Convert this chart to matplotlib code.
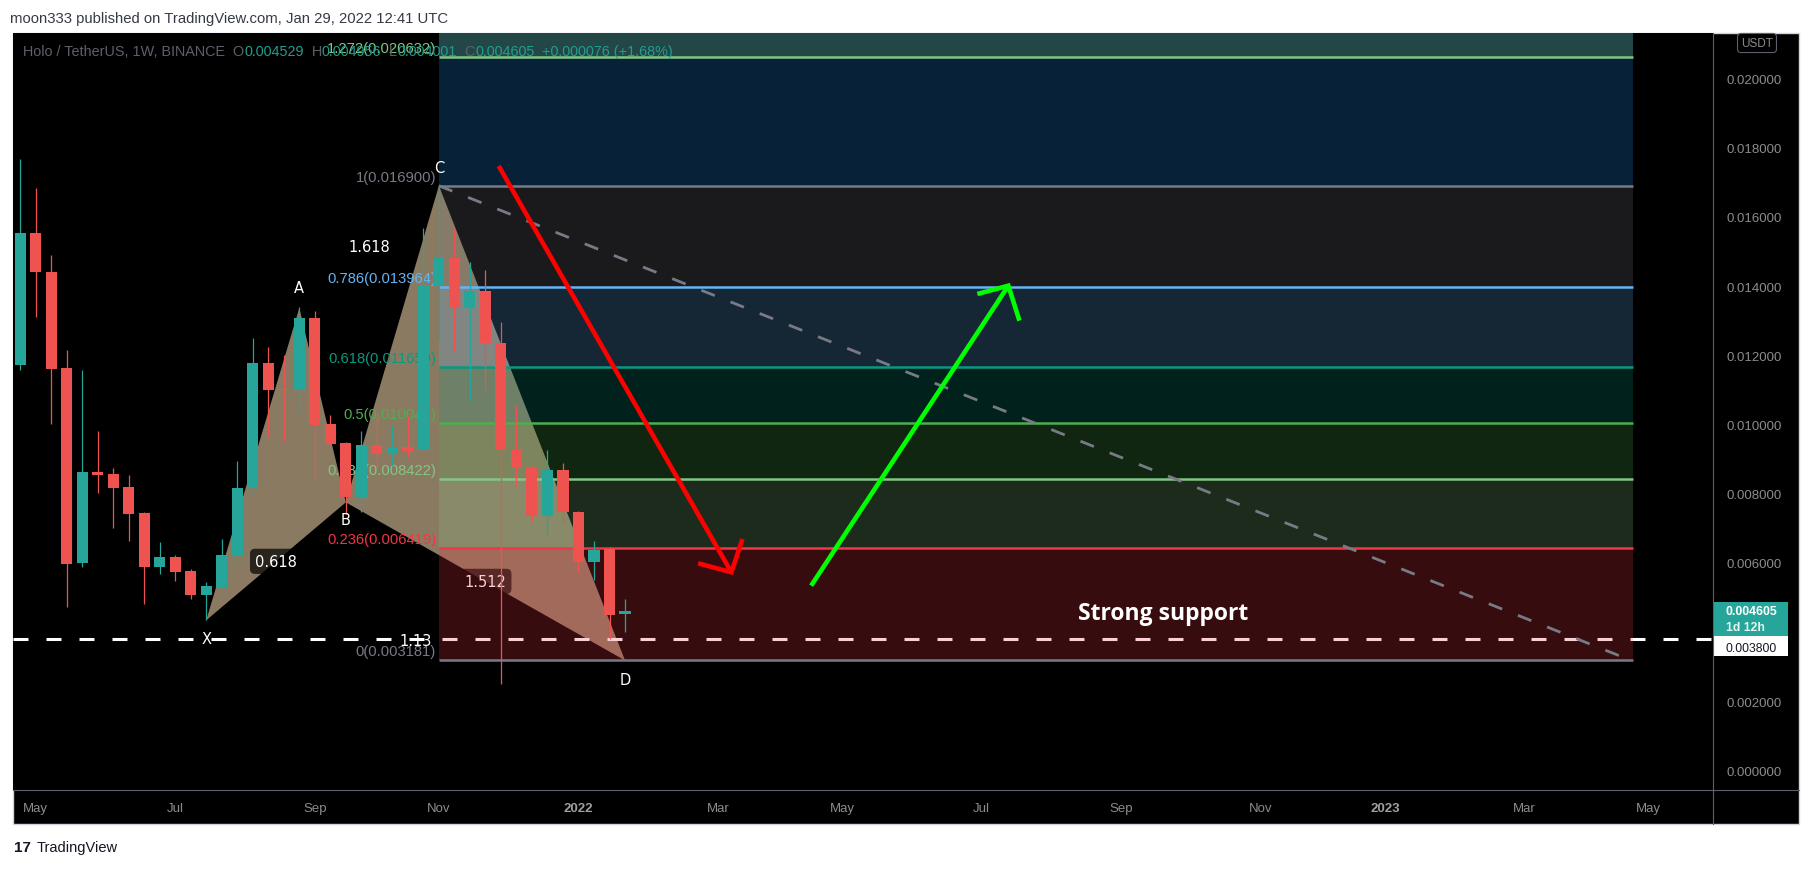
import datetime as dt
import numpy as np
import matplotlib
matplotlib.use("Agg")
import matplotlib.pyplot as plt
import matplotlib.dates as mdates
import matplotlib.transforms as mtransforms
from matplotlib.lines import Line2D
from matplotlib.patches import Rectangle

plt.rcParams["font.family"] = ["Liberation Sans", "DejaVu Sans"]

W, H, DPI = 1813, 870, 100

# ----------------------------------------------------------------------
# weekly candles HOT/USDT (Binance), first bar = week of 2021-04-26
FIRST_BAR = dt.datetime(2021, 4, 26)
opens = [0.01173, 0.01553, 0.01442, 0.01163, 0.00601, 0.00863, 0.00857, 0.00819,
         0.00744, 0.00589, 0.00617, 0.00577, 0.00508, 0.00531, 0.00621, 0.00816,
         0.01178, 0.01104, 0.01101, 0.01308, 0.01001, 0.00947, 0.00788, 0.00941,
         0.00915, 0.00934, 0.00926, 0.01399, 0.01481, 0.01336, 0.01385, 0.01235,
         0.00927, 0.00874, 0.00736, 0.00869, 0.00746, 0.00602, 0.00640, 0.004529]
highs = [0.01767, 0.01683, 0.01490, 0.01215, 0.01158, 0.00980, 0.00874, 0.00853,
         0.00748, 0.00660, 0.00624, 0.00582, 0.00545, 0.00669, 0.00895, 0.01250,
         0.01224, 0.01201, 0.01340, 0.01327, 0.01028, 0.00948, 0.00982, 0.01036,
         0.00995, 0.01025, 0.01568, 0.01690, 0.01568, 0.01469, 0.01447, 0.01295,
         0.01056, 0.00879, 0.00926, 0.00889, 0.00751, 0.00664, 0.00645, 0.004956]
lows = [0.01158, 0.01312, 0.01001, 0.00473, 0.00589, 0.00802, 0.00701, 0.00664,
        0.00482, 0.00569, 0.00549, 0.00497, 0.00434, 0.00527, 0.00604, 0.00793,
        0.00964, 0.00949, 0.01028, 0.00838, 0.00940, 0.00741, 0.00746, 0.00871,
        0.00881, 0.00910, 0.00923, 0.01241, 0.01213, 0.01067, 0.01101, 0.00250,
        0.00823, 0.00717, 0.00677, 0.00712, 0.00573, 0.00551, 0.00380, 0.004001]
closes = [0.01553, 0.01442, 0.01161, 0.00598, 0.00863, 0.00855, 0.00817, 0.00741,
          0.00589, 0.00617, 0.00575, 0.00508, 0.00532, 0.00623, 0.00817, 0.01178,
          0.01101, 0.01101, 0.01308, 0.00999, 0.00945, 0.00790, 0.00941, 0.00915,
          0.00932, 0.00923, 0.01399, 0.01481, 0.01336, 0.01385, 0.01235, 0.00927,
          0.00873, 0.00736, 0.00869, 0.00746, 0.00602, 0.00637, 0.00450, 0.004605]

# fib retracement D(0) -> C(1)
fib_levels = ["0", "0.236", "0.382", "0.5", "0.618", "0.786", "1", "1.272", "1.618"]
fib_prices = [0.003181, 0.006419, 0.008422, 0.010041, 0.011659, 0.013964,
              0.016900, 0.020632, 0.025378]
fib_colors = ["#787b86", "#f23645", "#81c784", "#4caf50", "#089981", "#64b5f6",
              "#787b86", "#81c784", "#2962ff"]
zone_colors = ["#f23645", "#81c784", "#4caf50", "#089981", "#64b5f6", "#787b86",
               "#2196f3", "#58b4b4"]
zone_alphas = [0.23, 0.22, 0.22, 0.22, 0.22, 0.22, 0.23, 0.40]
fib_start, fib_end = "2021-11-01", "2023-04-24"

# XABCD pattern
pat_names = ["X", "A", "B", "C", "D"]
pat_dates = ["2021-07-19", "2021-08-30", "2021-09-20", "2021-11-01", "2022-01-24"]
pat_prices = [0.004341, 0.013367, 0.007750, 0.016900, 0.003181]
pat_label_dy = [-13, 15, -12, 13, -14]
ratio_links = [(0, 2, "0.618"), (1, 3, "1.618"), (2, 4, "1.512"), (0, 4, "1.13")]

# hand drawings
support_price = 0.0038
trend_dates = ["2021-11-01", "2023-04-18"]
trend_prices = [0.016900, 0.003310]
red_shaft_d = ["2021-11-28", "2022-03-13"]
red_shaft_p = [0.017471, 0.005728]
red_head_d = ["2022-02-26", "2022-03-13", "2022-03-18"]
red_head_p = [0.005988, 0.005728, 0.006691]
green_shaft_d = ["2022-04-18", "2022-07-16"]
green_shaft_p = [0.005341, 0.014012]
green_head_d = ["2022-07-02", "2022-07-16", "2022-07-21"]
green_head_p = [0.013772, 0.014012, 0.013000]
note_text, note_date, note_price = "Strong support", "2022-09-24", 0.004552

# axes
price_ticks = np.arange(0, 0.0201, 0.002)
month_ticks = ["2021-05-03", "2021-07-05", "2021-09-06", "2021-11-01", "2022-01-03",
               "2022-03-07", "2022-05-02", "2022-07-04", "2022-09-05", "2022-11-07",
               "2023-01-02", "2023-03-06", "2023-05-01"]
month_labels = ["May", "Jul", "Sep", "Nov", "2022", "Mar", "May", "Jul", "Sep",
                "Nov", "2023", "Mar", "May"]
YMIN, YMAX = -0.000564, 0.021315
X0 = "2021-04-22"
X1 = "2023-05-30"

# legend line of the chart: (text, is_value)
legend_pieces = [("Holo / TetherUS, 1W, BINANCE  O", False), ("0.004529", True),
                 ("  H", False), ("0.004956", True), ("  L", False), ("0.004001", True),
                 ("  C", False), ("0.004605", True), ("  +0.000076 (+1.68%)", True)]
# ----------------------------------------------------------------------


def d(s):
    return mdates.date2num(dt.datetime.strptime(s, "%Y-%m-%d"))


UP, DOWN = "#26a69a", "#ef5350"

fig = plt.figure(figsize=(W / DPI, H / DPI), dpi=DPI, facecolor="white")


def fx(px):
    return px / W


def fy(py):
    return 1 - py / H


# panel background + borders
fig.add_artist(Rectangle((fx(13), fy(825)), fx(1786), 791 / H, transform=fig.transFigure,
                         fc="black", ec="#d1d4dc", lw=1, zorder=-5))
fig.add_artist(Line2D([fx(1713), fx(1713)], [fy(34), fy(825)], transform=fig.transFigure,
                      color="#5d606b", lw=0.8, zorder=5))
fig.add_artist(Line2D([fx(13), fx(1799)], [fy(791), fy(791)], transform=fig.transFigure,
                      color="#5d606b", lw=0.8, zorder=5))

ax = fig.add_axes([fx(13), fy(791), 1700 / W, 757 / H])
ax.set_facecolor("black")
ax.set_xlim(d(X0) + 0.8, d(X1))
ax.set_ylim(YMIN, YMAX)
for sp in ax.spines.values():
    sp.set_visible(False)
k = (YMAX - YMIN) / 757.0  # price per pixel

# support line (under the fib fill)
ax.axhline(support_price, color="white", lw=2.2, dashes=(4.9, 5.9), zorder=2.8)

# XABCD pattern
px = [d(s) for s in pat_dates]
ax.fill(px[0:3], pat_prices[0:3], color="#ffe0b4", alpha=0.55, lw=0, zorder=2)
ax.fill(px[2:5], pat_prices[2:5], color="#ffe0b4", alpha=0.55, lw=0, zorder=2)
for i, j, txt in ratio_links:
    mx = (px[i] + px[j]) / 2
    my = (pat_prices[i] + pat_prices[j]) / 2
    ax.text(mx, my, txt, ha="center", va="center", color="white", fontsize=10.5,
            family="DejaVu Sans", zorder=2.5,
            bbox=dict(boxstyle="round,pad=0.35", fc="black", ec="none", alpha=0.7))
for name, x, y, dy in zip(pat_names, px, pat_prices, pat_label_dy):
    ax.annotate(name, (x, y), xytext=(0, dy), textcoords="offset points",
                ha="center", va="center", color="white", fontsize=10.5,
                family="DejaVu Sans", zorder=8)

# fib zones and levels
fs, fe = d(fib_start), d(fib_end)
for i in range(len(zone_colors)):
    ax.fill_between([fs, fe], fib_prices[i], fib_prices[i + 1], color=zone_colors[i],
                    alpha=zone_alphas[i], lw=0, zorder=3)
for lvl, p, c in zip(fib_levels, fib_prices, fib_colors):
    if p > YMAX:
        continue
    ax.plot([fs, fe], [p, p], color=c, lw=1.8, solid_capstyle="butt", zorder=4)
    ax.annotate(f"{lvl}({p:.6f})", (fs, p), xytext=(-2, 1.5), textcoords="offset points",
                ha="right", va="bottom", color=c, fontsize=10.6, zorder=4.5)

# candles
dates = [mdates.date2num(FIRST_BAR + dt.timedelta(weeks=i)) for i in range(len(opens))]
cols = [UP if c >= o else DOWN for o, c in zip(opens, closes)]
bottoms = [min(o, c) for o, c in zip(opens, closes)]
heights = [max(abs(c - o), k) for o, c in zip(opens, closes)]
ax.vlines(dates, lows, highs, colors=cols, lw=0.9, zorder=5)
ax.bar(dates, heights, bottom=bottoms, width=5.0, color=cols, lw=0, zorder=5.1)

# drawings
ax.plot([d(s) for s in trend_dates], trend_prices, color="#787b86", lw=2.0,
        dashes=(5.2, 6.1), zorder=6)
for sd, sp_, hd, hp, c in [(red_shaft_d, red_shaft_p, red_head_d, red_head_p, "#ff0000"),
                           (green_shaft_d, green_shaft_p, green_head_d, green_head_p,
                            "#00ff00")]:
    ax.plot([d(s) for s in sd], sp_, color=c, lw=3.3, solid_capstyle="butt", zorder=6)
    ax.plot([d(s) for s in hd], hp, color=c, lw=3.3, solid_joinstyle="miter",
            solid_capstyle="butt", zorder=6)
ax.text(d(note_date), note_price, note_text, ha="center", va="center", color="white",
        fontsize=16.5, fontweight="bold", family="Open Sans", zorder=8)

# price scale
ax.yaxis.tick_right()
ax.set_yticks(price_ticks)
ax.set_yticklabels([f"{v:.6f}" for v in price_ticks])
ax.tick_params(axis="y", length=0, pad=9.4, labelsize=9.5, labelcolor="#8c8c8c")
ax.set_xticks([d(s) for s in month_ticks])
ax.set_xticklabels(month_labels)
ax.tick_params(axis="x", length=0, pad=8.8, labelsize=9.5, labelcolor="#8c8c8c")
for t in ax.get_xticklabels():
    if t.get_text().isdigit():
        t.set_fontweight("bold")
        t.set_color("#a0a0a0")

blend = mtransforms.blended_transform_factory(ax.transAxes, ax.transData)
last = closes[-1]
ax.add_patch(Rectangle((1.0, last - 25 * k), 75 / 1700, 34 * k, transform=blend,
                       fc=UP, ec="none", clip_on=False, zorder=9))
ax.text(1 + 13 / 1700, last, f"{last:.6f}", transform=blend, ha="left", va="center",
        color="white", fontsize=8.8, fontweight="bold", zorder=10, clip_on=False)
ax.text(1 + 13 / 1700, last - 16 * k, "1d 12h", transform=blend, ha="left", va="center",
        color="#e6f4f2", fontsize=8.8, fontweight="bold", zorder=10, clip_on=False)
ax.add_patch(Rectangle((1.0, support_price - 17 * k), 75 / 1700, 20 * k, transform=blend,
                       fc="white", ec="none", clip_on=False, zorder=9))
ax.text(1 + 13 / 1700, support_price - 8.5 * k, f"{support_price:.6f}", transform=blend,
        ha="left", va="center", color="#131722", fontsize=8.8, zorder=10, clip_on=False)

fig.text(fx(1757), fy(44), "USDT", ha="center", va="center", color="#8c8c8c", fontsize=8.5,
         bbox=dict(boxstyle="round,pad=0.3", fc="black", ec="#5d606b", lw=0.8))

# legend line, pieces chained left to right
GRAY, TEAL = "#5d606b", "#229c8f"
prev = fig.text(fx(23), fy(59), legend_pieces[0][0], color=GRAY, fontsize=10.4,
                ha="left", va="bottom", zorder=20)
for s, is_val in legend_pieces[1:]:
    prev = ax.annotate(s, xy=(1, 0), xycoords=prev, ha="left", va="bottom",
                       fontsize=10.4, color=TEAL if is_val else GRAY, zorder=20,
                       annotation_clip=False)

fig.text(fx(10), fy(19), "moon333 published on TradingView.com, Jan 29, 2022 12:41 UTC",
         ha="left", va="center", color="#363a45", fontsize=10.7)
fig.text(fx(14), fy(848), "17", ha="left", va="center", color="#131722", fontsize=11,
         fontweight="bold")
fig.text(fx(37), fy(848), "TradingView", ha="left", va="center", color="#131722",
         fontsize=10.5)

fig.savefig("out.png", dpi=DPI, facecolor="white")
